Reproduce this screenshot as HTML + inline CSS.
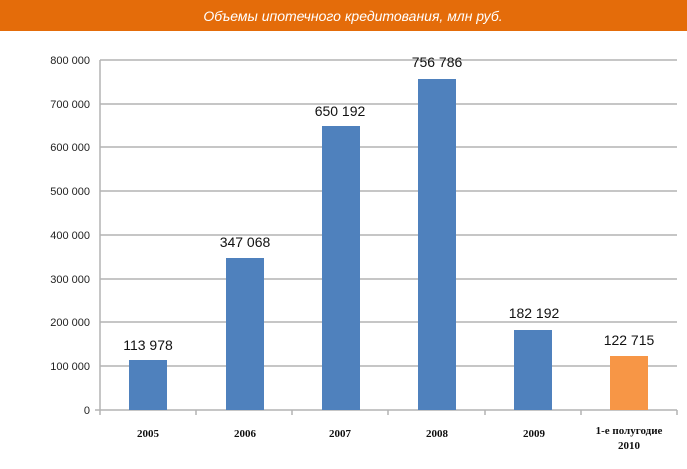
<!DOCTYPE html>
<html><head><meta charset="utf-8"><style>
body{margin:0;width:687px;height:464px;background:#fff;overflow:hidden}
</style></head><body>
<svg width="687" height="464" xmlns="http://www.w3.org/2000/svg" font-family="Liberation Sans, sans-serif">
<rect x="0" y="0" width="687" height="31" fill="#e46c0a"/>
<text x="353" y="21" fill="#fff" font-size="14" font-style="italic" text-anchor="middle">Объемы ипотечного кредитования, млн руб.</text>
<g stroke="#b3b3b3" stroke-width="1.5">
<line x1="100" x2="677" y1="60" y2="60"/><line x1="100" x2="677" y1="104" y2="104"/>
<line x1="100" x2="677" y1="147" y2="147"/><line x1="100" x2="677" y1="191" y2="191"/>
<line x1="100" x2="677" y1="235" y2="235"/><line x1="100" x2="677" y1="279" y2="279"/>
<line x1="100" x2="677" y1="322" y2="322"/><line x1="100" x2="677" y1="366" y2="366"/>
<line x1="95" x2="677" y1="410" y2="410"/><line x1="100" x2="100" y1="60" y2="415"/>
<line x1="196" x2="196" y1="410" y2="415"/><line x1="292" x2="292" y1="410" y2="415"/>
<line x1="388" x2="388" y1="410" y2="415"/><line x1="485" x2="485" y1="410" y2="415"/>
<line x1="581" x2="581" y1="410" y2="415"/><line x1="677" x2="677" y1="410" y2="415"/>
</g>
<g font-size="11" text-anchor="end" fill="#222">
<text x="90" y="64">800 000</text><text x="90" y="108">700 000</text><text x="90" y="151">600 000</text>
<text x="90" y="195">500 000</text><text x="90" y="239">400 000</text><text x="90" y="283">300 000</text>
<text x="90" y="326">200 000</text><text x="90" y="370">100 000</text><text x="90" y="414">0</text>
</g>
<g fill="#4f81bd">
<rect x="129" y="360" width="38" height="50"/>
<rect x="226" y="258" width="38" height="152"/>
<rect x="322" y="126" width="38" height="284"/>
<rect x="418" y="79" width="38" height="331"/>
<rect x="514" y="330" width="38" height="80"/>
</g>
<rect x="610" y="356" width="38" height="54" fill="#f79646"/>
<g font-size="14" text-anchor="middle" fill="#111">
<text x="148" y="350">113 978</text><text x="245" y="247">347 068</text>
<text x="340" y="116">650 192</text><text x="437" y="67">756 786</text>
<text x="534" y="318">182 192</text><text x="629" y="345">122 715</text>
</g>
<g font-size="11" font-weight="bold" text-anchor="middle" font-family="Liberation Serif, serif" fill="#111">
<text x="148" y="437">2005</text><text x="245" y="437">2006</text><text x="340" y="437">2007</text>
<text x="437" y="437">2008</text><text x="534" y="437">2009</text>
<text x="629" y="434">1-е полугодие</text><text x="629" y="449">2010</text>
</g>
</svg>
</body></html>
